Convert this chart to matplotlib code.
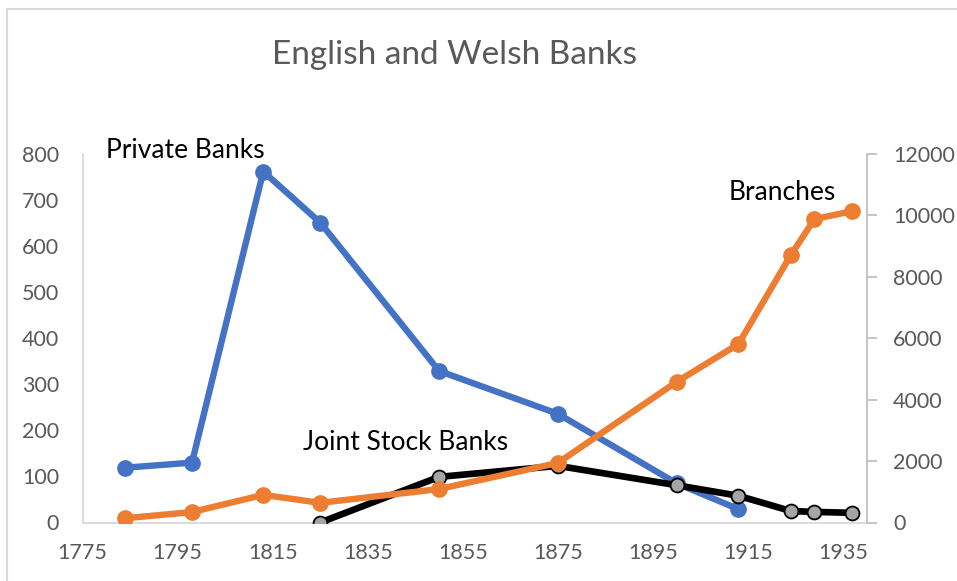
import matplotlib
matplotlib.use("Agg")
import matplotlib.pyplot as plt
from matplotlib.patches import Rectangle

# data
years_private = [1784, 1798, 1813, 1825, 1850, 1875, 1900, 1913]
private_banks = [119, 130, 762, 651, 329, 236, 85, 29]

years_joint = [1825, 1850, 1875, 1900, 1913, 1924, 1929, 1937]
joint_stock = [0, 99, 123, 81, 58, 25, 23, 21]

years_branch = [1784, 1798, 1813, 1825, 1850, 1875, 1900, 1913, 1924, 1929, 1937]
branches = [140, 340, 900, 640, 1090, 1940, 4580, 5810, 8700, 9880, 10140]

x_ticks = list(range(1775, 1936, 20))
left_ticks = list(range(0, 801, 100))
right_ticks = list(range(0, 12001, 2000))

BLUE = "#4472C4"
ORANGE = "#ED7D31"
GREY = "#A5A5A5"
TXT = "#595959"

plt.rcParams["font.family"] = ["Lato", "DejaVu Sans"]

W, H = 957, 581
fig = plt.figure(figsize=(W / 100, H / 100), dpi=100)
ax = fig.add_axes([82.7 / W, (H - 522.5) / H, (866.7 - 82.7) / W, (522.5 - 154) / H])
ax2 = ax.twinx()

# outer chart border (runs off the right and bottom edges)
fig.patches.append(Rectangle((7 / W, -0.1), 1.2, 1 - 8.5 / H + 0.1, transform=fig.transFigure,
                             fill=False, edgecolor="#D9D9D9", linewidth=1.5))

ax.plot(years_private, private_banks, color=BLUE, lw=4.6, marker="o", ms=11,
        solid_capstyle="round", zorder=3)
ax.plot(years_joint, joint_stock, color="black", lw=4.8, marker="o", ms=10,
        markerfacecolor=GREY, markeredgecolor="black", markeredgewidth=1.3, zorder=4)
ax2.plot(years_branch, branches, color=ORANGE, lw=4.6, marker="o", ms=11,
         solid_capstyle="round", zorder=3)

ax.set_xlim(1775, 1940)
ax.set_ylim(0, 800)
ax2.set_ylim(0, 12000)
ax.set_xticks(x_ticks)
ax.set_yticks(left_ticks)
ax2.set_yticks(right_ticks)

for a in (ax, ax2):
    a.spines["top"].set_visible(False)
ax.spines["left"].set_color("#D9D9D9")
ax.spines["bottom"].set_color("#D9D9D9")
ax.spines["right"].set_visible(False)
ax2.spines["left"].set_visible(False)
ax2.spines["bottom"].set_visible(False)
ax2.spines["right"].set_color("#BFBFBF")
for s in ("left", "bottom"):
    ax.spines[s].set_linewidth(1.3)
ax2.spines["right"].set_linewidth(1.3)

ax.tick_params(axis="x", length=0, pad=15, labelsize=15.5, labelcolor=TXT)
ax.tick_params(axis="y", length=0, pad=17, labelsize=15.5, labelcolor=TXT)
ax2.tick_params(axis="y", length=7, width=1.3, color="#BFBFBF", pad=12,
                labelsize=15.5, labelcolor=TXT)

fig.text(455 / W, 1 - 55 / H, "English and Welsh Banks", ha="center", va="center",
         fontsize=24, color=TXT)

for txt, x, y in [("Private Banks", 106, 151), ("Branches", 729, 193),
                  ("Joint Stock Banks", 303, 442)]:
    fig.text(x / W, 1 - y / H, txt, ha="left", va="center", fontsize=19, color="black")

fig.savefig("out.png", dpi=100)
